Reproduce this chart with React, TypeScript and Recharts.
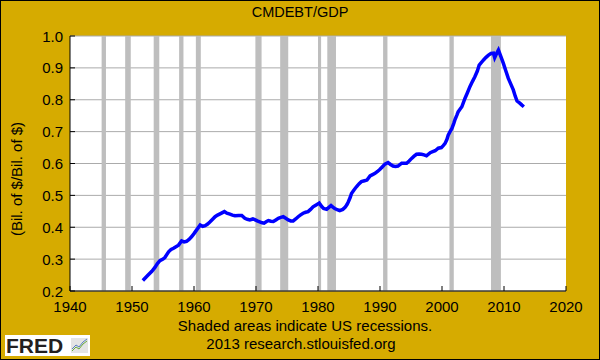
import { LineChart, Line, XAxis, YAxis, CartesianGrid, ReferenceArea } from 'recharts';

const GOLD = '#D6AB00';
const BLUE = '#0000FF';
const GRID = '#ABABAB';
const SHADE = '#BEBEBE';
const FONT = '"Liberation Sans", Arial, sans-serif';

// quarter-ish sample points
const years = [
  1951.75, 1952.25, 1952.6, 1953.2, 1953.7, 1954.1, 1954.5, 1955.0, 1955.3, 1955.9,
  1956.3, 1956.7, 1957.5, 1958.0, 1958.4, 1958.8, 1959.2, 1959.6, 1960.0, 1960.4,
  1961.0, 1961.4, 1961.8, 1962.2, 1962.6, 1963.0, 1963.4, 1963.8, 1964.2, 1964.9,
  1965.3, 1965.8, 1966.2, 1966.6, 1967.2, 1967.7, 1968.2, 1968.6, 1969.0, 1969.5,
  1969.8, 1970.2, 1970.6, 1971.0, 1971.3, 1971.7, 1972.0, 1972.4, 1972.8, 1973.2,
  1973.6, 1974.0, 1974.4, 1974.8, 1975.2, 1975.6, 1976.0, 1976.4, 1976.8, 1977.2,
  1977.6, 1978.0, 1978.4, 1978.8, 1979.2, 1979.7, 1980.2, 1980.6, 1980.9, 1981.4,
  1981.8, 1982.1, 1982.4, 1982.7, 1983.1, 1983.5, 1984.0, 1984.4, 1984.7, 1984.9,
  1985.2, 1985.4, 1985.8, 1986.2, 1986.6, 1987.0, 1987.5, 1987.9, 1988.4, 1988.8,
  1989.2, 1989.6, 1990.0, 1990.4, 1990.8, 1991.3, 1991.7, 1992.1, 1992.5, 1992.9,
  1993.5, 1993.9, 1994.3, 1994.7, 1995.1, 1995.5, 1995.9, 1996.3, 1996.7, 1997.1,
  1997.5, 1998.1, 1998.5, 1998.9, 1999.4, 1999.9, 2000.2, 2000.5, 2000.8, 2001.0,
  2001.3, 2001.6, 2001.9, 2002.1, 2002.4, 2002.6, 2002.9, 2003.2, 2003.7, 2004.1,
  2004.5, 2004.9, 2005.3, 2005.7, 2006.0, 2006.4, 2006.7, 2007.1, 2007.5, 2007.9,
  2008.3, 2008.5, 2008.8, 2009.1, 2009.5, 2009.9, 2010.3, 2010.7, 2011.1, 2011.5,
  2011.8, 2012.1, 2012.5, 2012.9, 2013.2,
];

const ratio = [
  0.233, 0.243, 0.25, 0.262, 0.274, 0.286, 0.295, 0.3, 0.305, 0.323,
  0.33, 0.334, 0.344, 0.357, 0.354, 0.356, 0.362, 0.37, 0.38, 0.391,
  0.407, 0.403, 0.405, 0.41, 0.417, 0.425, 0.433, 0.438, 0.442, 0.449,
  0.444, 0.441, 0.438, 0.436, 0.437, 0.437, 0.428, 0.425, 0.423, 0.426,
  0.424, 0.42, 0.417, 0.414, 0.413, 0.418, 0.421, 0.419, 0.418, 0.423,
  0.428, 0.431, 0.433, 0.428, 0.423, 0.42, 0.42, 0.426, 0.433, 0.439,
  0.444, 0.447, 0.449, 0.456, 0.464, 0.47, 0.476, 0.465, 0.459, 0.456,
  0.463, 0.468, 0.463, 0.459, 0.455, 0.452, 0.456, 0.463, 0.472, 0.48,
  0.494, 0.506, 0.517, 0.527, 0.536, 0.543, 0.546, 0.548, 0.561, 0.565,
  0.569, 0.575, 0.582, 0.59, 0.598, 0.603, 0.597, 0.592, 0.591, 0.592,
  0.601, 0.601, 0.601, 0.608, 0.616, 0.623, 0.629, 0.63, 0.629, 0.627,
  0.624, 0.634, 0.637, 0.64, 0.648, 0.65, 0.656, 0.663, 0.676, 0.689,
  0.7, 0.71, 0.726, 0.738, 0.752, 0.762, 0.77, 0.778, 0.804, 0.822,
  0.841, 0.857, 0.872, 0.89, 0.909, 0.918, 0.925, 0.933, 0.94, 0.945,
  0.946, 0.932, 0.945, 0.956, 0.935, 0.914, 0.89, 0.867, 0.849, 0.831,
  0.812, 0.796, 0.79, 0.783, 0.778,
];

// NBER recessions [start, end]
const recessionStart = [1945.1, 1948.9, 1953.5, 1957.6, 1960.3, 1969.9, 1973.9, 1980.0, 1981.5, 1990.5, 2001.2, 2007.9];
const recessionEnd = [1945.8, 1949.8, 1954.4, 1958.3, 1961.1, 1970.9, 1975.2, 1980.5, 1982.9, 1991.2, 2001.9, 2009.5];

const xTicks = [1940, 1950, 1960, 1970, 1980, 1990, 2000, 2010, 2020];
const yTicks = [0.2, 0.3, 0.4, 0.5, 0.6, 0.7, 0.8, 0.9, 1.0];

const data = years.map((y, i) => ({ year: y, value: ratio[i] }));

const XTick = ({ x, y, payload }: any) => (
  <g>
    <line x1={x} x2={x} y1={y} y2={y - 5} stroke="#000" />
    <text x={x} y={y + 21} textAnchor="middle" fill="#000" fontSize={15} fontFamily={FONT}>
      {payload.value}
    </text>
  </g>
);

const YTick = ({ x, y, payload }: any) => (
  <g>
    <line x1={x} x2={x + 5} y1={y} y2={y} stroke="#000" />
    <text x={x - 7} y={y + 5.5} textAnchor="end" fill="#000" fontSize={15} fontFamily={FONT}>
      {payload.value.toFixed(1)}
    </text>
  </g>
);

export default function App() {
  return (
    <div style={{ position: 'relative', width: 600, height: 360, background: GOLD }}>
      <style>{'body{margin:0}'}</style>
      <LineChart width={600} height={360} data={data} margin={{ top: 36, right: 34, bottom: 0, left: 0 }}>
        <CartesianGrid vertical={false} stroke={GRID} fill="#ffffff" fillOpacity={1} />
        {recessionStart.map((s, i) => (
          <ReferenceArea key={s} x1={s} x2={recessionEnd[i]} fill={SHADE} fillOpacity={1} stroke="none" />
        ))}
        <XAxis
          dataKey="year"
          type="number"
          domain={[1940, 2020]}
          ticks={xTicks}
          height={69}
          tickSize={0}
          tickMargin={0}
          tickLine={false}
          axisLine={{ stroke: '#000' }}
          tick={<XTick />}
          interval={0}
        />
        <YAxis
          type="number"
          domain={[0.2, 1.0]}
          ticks={yTicks}
          width={70}
          tickSize={0}
          tickMargin={0}
          tickLine={false}
          axisLine={{ stroke: '#000' }}
          tick={<YTick />}
          interval={0}
        />
        <Line dataKey="value" stroke={BLUE} strokeWidth={3.5} dot={false} isAnimationActive={false} />
      </LineChart>
      <svg width={600} height={360} style={{ position: 'absolute', left: 0, top: 0, pointerEvents: 'none' }}>
        <text x={300} y={17} textAnchor="middle" fontSize={14.5} fontFamily={FONT} fill="#000">
          CMDEBT/GDP
        </text>
        <text
          x={16}
          y={179}
          transform="rotate(-90 16 179)"
          textAnchor="middle"
          dominantBaseline="central"
          fontSize={15}
          fontFamily={FONT}
          fill="#000"
        >
          (Bil. of $/Bil. of $)
        </text>
        <text x={305} y={331} textAnchor="middle" fontSize={15} fontFamily={FONT} fill="#000">
          Shaded areas indicate US recessions.
        </text>
        <text x={301} y={349} textAnchor="middle" fontSize={15} fontFamily={FONT} fill="#000">
          2013 research.stlouisfed.org
        </text>
        <rect x={5} y={335} width={85} height={21} fill="#fff" />
        <text x={6} y={353} fontSize={21} fontWeight="bold" fontFamily={FONT} fill="#231F20">
          FRED
        </text>
        <rect x={71} y={338} width={17} height={15} fill="#E4E4E4" />
        <polyline points="72,351 76,347 79,349 83,344 87,341" fill="none" stroke="#6AAA3A" strokeWidth={1} />
        <polyline points="72,349 76,345 79,347 83,342 87,339" fill="none" stroke="#5B7FC0" strokeWidth={1} />
        <rect x={0.5} y={0.5} width={599} height={359} fill="none" stroke="#000" />
      </svg>
    </div>
  );
}
